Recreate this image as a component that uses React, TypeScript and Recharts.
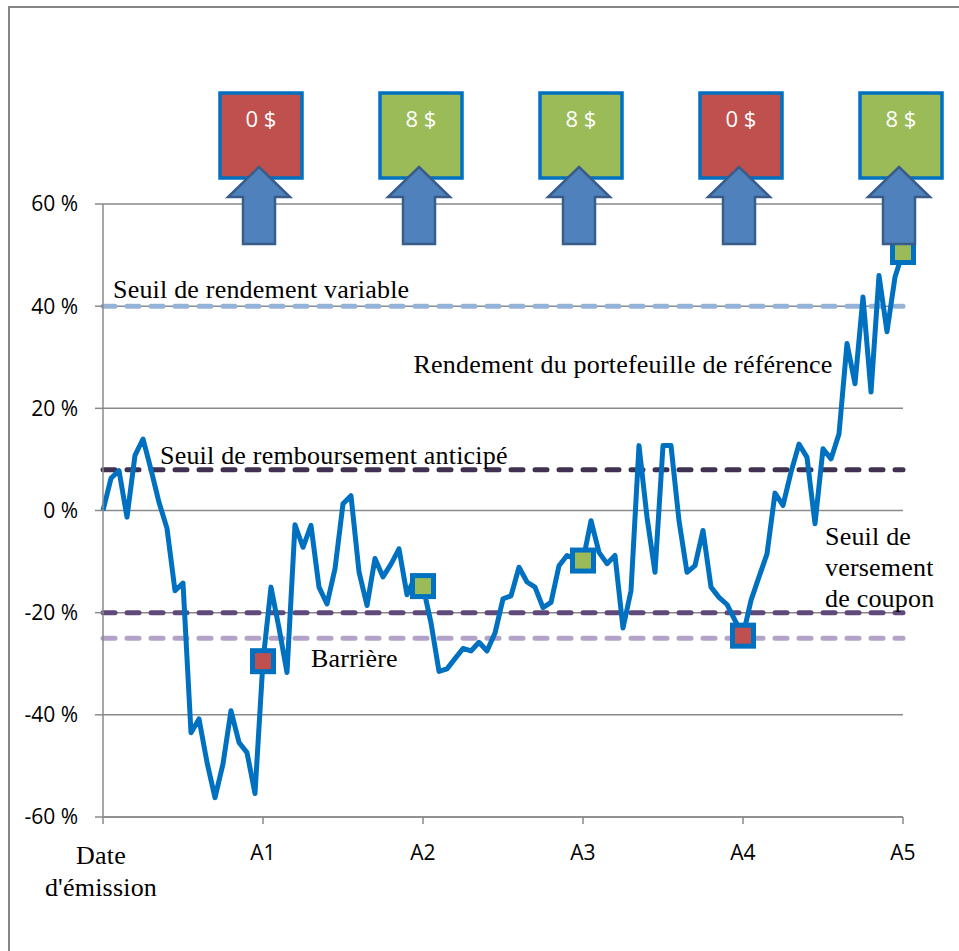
import React from 'react';
import {
  CartesianGrid,
  ComposedChart,
  Line,
  ReferenceDot,
  ReferenceLine,
  Scatter,
  XAxis,
  YAxis,
} from 'recharts';

// rendement du portefeuille de référence, en %, 20 relevés par année
const portfolioReturns = [
  0, 6.3, 7.8, -1.3, 10.8, 14, 8, 1.6, -3.5, -15.7,
  -14.2, -43.5, -40.8, -49.3, -56.2, -49.6, -39.2, -45.4, -47.4, -55.4,
  -29.5, -15, -23, -31.7, -2.8, -7.2, -2.9, -15, -18.3, -11.4,
  1.3, 2.9, -12, -18.6, -9.4, -13, -10.5, -7.5, -16.5, -13,
  -14.8, -22, -31.5, -31, -29, -27, -27.5, -25.8, -27.5, -24,
  -17.3, -16.7, -11.1, -14, -15, -19, -18, -10.8, -8.8, -9.5,
  -9.8, -2, -8.2, -10.4, -8.8, -23, -15.7, 12.7, -1.3, -12.1,
  12.7, 12.7, -2, -12.1, -10.8, -3.9, -15, -17, -18.4, -21.5,
  -24.5, -17.6, -13, -8.5, 3.4, 1, 7.5, 13, 10.4, -2.6,
  12.1, 10.1, 15, 32.7, 24.8, 41.8, 23.2, 46, 35, 45.7,
  50.6,
];

const yearTicks = [0, 20, 40, 60, 80, 100];
const yearLabels = ["Date d'émission", 'A1', 'A2', 'A3', 'A4', 'A5'];
const percentTicks = [-60, -40, -20, 0, 20, 40, 60];

const coupons = ['0 $', '8 $', '8 $', '0 $', '8 $'];
const couponPaid = [false, true, true, false, true];

const variableReturnThreshold = 40;
const earlyRedemptionThreshold = 8;
const couponThreshold = -20;
const barrierLevel = -25;

const series = portfolioReturns.map((v, t) => ({ t, v }));
const observations = yearTicks.slice(1).map((t, k) => ({
  t,
  v: portfolioReturns[t],
  paid: couponPaid[k],
  coupon: coupons[k],
}));

const RED = '#C0504D';
const GREEN = '#9BBB59';
const BLUE = '#0070C0';
const GRID = '#8a8a8a';
const SERIF = '"Liberation Serif", "Times New Roman", serif';
const SANS = '"Open Sans", "Liberation Sans", sans-serif';

const serifText = {
  fontFamily: SERIF,
  fontSize: 26,
  fill: '#000',
  letterSpacing: 0.2,
};

const XTick = (props: any) => {
  const { x, y, payload } = props;
  const label = yearLabels[yearTicks.indexOf(payload.value)];
  if (payload.value === 0) {
    const [first, ...rest] = label.split(' ');
    return (
      <g>
        <text x={x - 2} y={y + 40} textAnchor="middle" style={serifText}>
          {first}
        </text>
        <text x={x - 2} y={y + 72} textAnchor="middle" style={serifText}>
          {rest.join(' ')}
        </text>
      </g>
    );
  }
  return (
    <text
      x={x}
      y={y + 36}
      textAnchor="middle"
      fontFamily={SANS}
      fontSize={21}
      fill="#000"
    >
      {label}
    </text>
  );
};

const ObservationMarker = (props: any) => {
  const { cx, cy, payload } = props;
  return (
    <rect
      x={cx - 10.5}
      y={cy - 10.5}
      width={21}
      height={21}
      fill={payload.paid ? GREEN : RED}
      stroke={BLUE}
      strokeWidth={5}
    />
  );
};

const couponBox = (k: number) => (props: any) => {
  const { cx, cy } = props;
  const bx = cx - 2;
  const ax = cx - 4;
  const arrow = [
    [ax, cy - 37],
    [ax + 31, cy - 7],
    [ax + 16, cy - 7],
    [ax + 16, cy + 40],
    [ax - 16, cy + 40],
    [ax - 16, cy - 7],
    [ax - 31, cy - 7],
  ]
    .map((p) => p.join(','))
    .join(' ');
  return (
    <g>
      <rect
        x={bx - 41}
        y={cy - 111}
        width={82}
        height={85}
        fill={couponPaid[k] ? GREEN : RED}
        stroke={BLUE}
        strokeWidth={3.5}
      />
      <text
        x={bx}
        y={cy - 77}
        textAnchor="middle"
        fontFamily={SANS}
        fontSize={22}
        fill="#fff"
      >
        {coupons[k]}
      </text>
      <polygon points={arrow} fill="#4F81BD" stroke="#385D8A" strokeWidth={2.5} />
    </g>
  );
};

const dashed = {
  strokeWidth: 5,
  strokeDasharray: '12 12',
  strokeLinecap: 'round' as const,
};

export default function App() {
  return (
    <div
      style={{
        position: 'fixed',
        left: 0,
        top: 0,
        width: 959,
        height: 951,
        overflow: 'hidden',
        background: '#fff',
      }}
    >
      <div
        style={{
          position: 'absolute',
          left: 8,
          top: 6,
          width: 1000,
          height: 1000,
          borderLeft: '2px solid #868686',
          borderTop: '2px solid #868686',
        }}
      />
      <div style={{ position: 'absolute', left: 0, top: 0 }}>
        <ComposedChart
          width={959}
          height={951}
          data={series}
          margin={{ top: 204, right: 56, bottom: 0, left: 0 }}
        >
          <CartesianGrid
            horizontal
            vertical={false}
            stroke={GRID}
            strokeWidth={1.5}
          />
          <XAxis
            dataKey="t"
            type="number"
            domain={[0, 100]}
            ticks={yearTicks}
            height={134}
            tickSize={7}
            tickMargin={0}
            interval={0}
            axisLine={{ stroke: GRID, strokeWidth: 1.5 }}
            tickLine={{ stroke: GRID, strokeWidth: 1.5 }}
            tick={<XTick />}
          />
          <YAxis
            dataKey="v"
            type="number"
            domain={[-60, 60]}
            ticks={percentTicks}
            width={103}
            tickSize={8}
            tickMargin={17}
            interval={0}
            axisLine={{ stroke: GRID, strokeWidth: 1.5 }}
            tickLine={{ stroke: GRID, strokeWidth: 1.5 }}
            tickFormatter={(v: number) => `${v} %`}
            tick={{ fontFamily: SANS, fontSize: 21, fill: '#000' }}
          />
          <ReferenceLine
            y={variableReturnThreshold}
            stroke="#95B3D7"
            {...dashed}
            label={(p: any) => (
              <text x={p.viewBox.x + 10} y={p.viewBox.y - 8} style={serifText}>
                Seuil de rendement variable
              </text>
            )}
          />
          <ReferenceLine
            y={earlyRedemptionThreshold}
            stroke="#403151"
            {...dashed}
            label={(p: any) => (
              <text x={p.viewBox.x + 57} y={p.viewBox.y - 6} style={serifText}>
                Seuil de remboursement anticipé
              </text>
            )}
          />
          <ReferenceLine
            y={couponThreshold}
            stroke="#604A7B"
            {...dashed}
            label={(p: any) => (
              <g>
                <text x={p.viewBox.x + 722} y={p.viewBox.y - 68} style={serifText}>
                  Seuil de
                </text>
                <text x={p.viewBox.x + 722} y={p.viewBox.y - 37} style={serifText}>
                  versement
                </text>
                <text x={p.viewBox.x + 722} y={p.viewBox.y - 6} style={serifText}>
                  de coupon
                </text>
              </g>
            )}
          />
          <ReferenceLine
            y={barrierLevel}
            stroke="#B3A2C7"
            {...dashed}
            label={(p: any) => (
              <text x={p.viewBox.x + 208} y={p.viewBox.y + 29} style={serifText}>
                Barrière
              </text>
            )}
          />
          <ReferenceDot
            x={91.2}
            y={27}
            r={0}
            shape={(p: any) => (
              <text x={p.cx} y={p.cy} textAnchor="end" style={serifText}>
                Rendement du portefeuille de référence
              </text>
            )}
          />
          <Line
            dataKey="v"
            stroke={BLUE}
            strokeWidth={5}
            strokeLinejoin="round"
            dot={false}
            activeDot={false}
            isAnimationActive={false}
          />
          <Scatter
            data={observations}
            dataKey="v"
            shape={<ObservationMarker />}
            isAnimationActive={false}
          />
          {observations.map((o, k) => (
            <ReferenceDot
              key={o.t}
              x={o.t}
              y={60}
              r={0}
              shape={couponBox(k)}
            />
          ))}
        </ComposedChart>
      </div>
    </div>
  );
}
